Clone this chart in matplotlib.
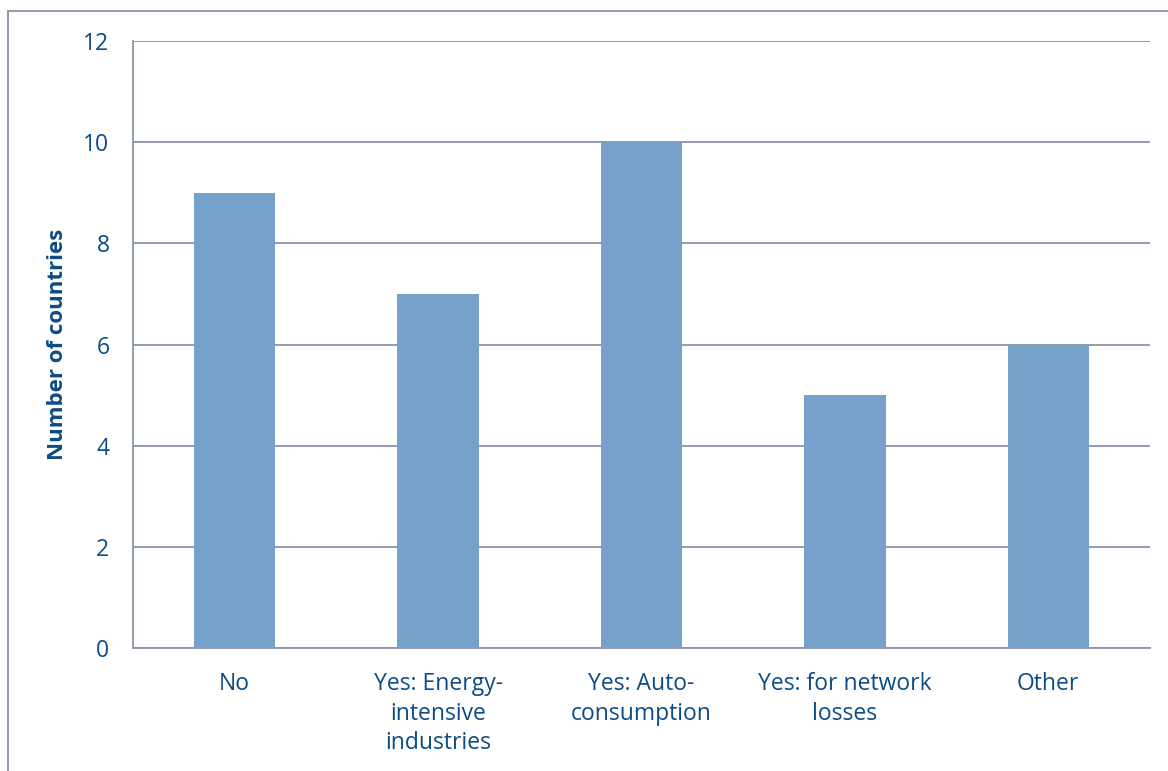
import matplotlib.pyplot as plt
from matplotlib.lines import Line2D

categories = [
    "No",
    "Yes: Energy-\nintensive\nindustries",
    "Yes: Auto-\nconsumption",
    "Yes: for network\nlosses",
    "Other",
]
counts = [9, 7, 10, 5, 6]
y_ticks = [0, 2, 4, 6, 8, 10, 12]

TEXT = "#0D4C84"
BAR = "#76A1CA"
LINE = "#8A94A8"

plt.rcParams["font.family"] = ["Open Sans", "DejaVu Sans"]

W, H = 1168, 771
fig = plt.figure(figsize=(W / 100, H / 100), dpi=100)
ax = fig.add_axes([133 / W, 1 - 648 / H, (1150 - 133) / W, (648 - 41) / H])

x = list(range(len(categories)))
ax.bar(x, counts, width=0.4, color=BAR, zorder=3)

ax.set_xlim(-0.5, len(categories) - 0.5)
ax.set_ylim(0, 12)
ax.set_yticks(y_ticks)
ax.set_xticks(x)
ax.set_xticklabels(categories, linespacing=1.3, va="top")
ax.tick_params(axis="both", length=0, colors=TEXT, labelsize=16.5)
ax.tick_params(axis="y", pad=17)
ax.tick_params(axis="x", pad=17.5)

ax.grid(axis="y", color=LINE, linewidth=1.3, zorder=0)
for side in ["top", "right"]:
    ax.spines[side].set_visible(False)
for side in ["left", "bottom"]:
    ax.spines[side].set_color(LINE)
    ax.spines[side].set_linewidth(1.3)

ax.set_ylabel("Number of countries", color=TEXT, fontsize=16,
              fontweight="bold", labelpad=11)

# outer frame around the chart
fig.add_artist(Line2D([8 / W, 8 / W], [0, 1 - 11 / H], color=LINE, linewidth=1.3))
fig.add_artist(Line2D([8 / W, 1], [1 - 11 / H, 1 - 11 / H], color=LINE, linewidth=1.3))

fig.savefig("out.png", dpi=100)
